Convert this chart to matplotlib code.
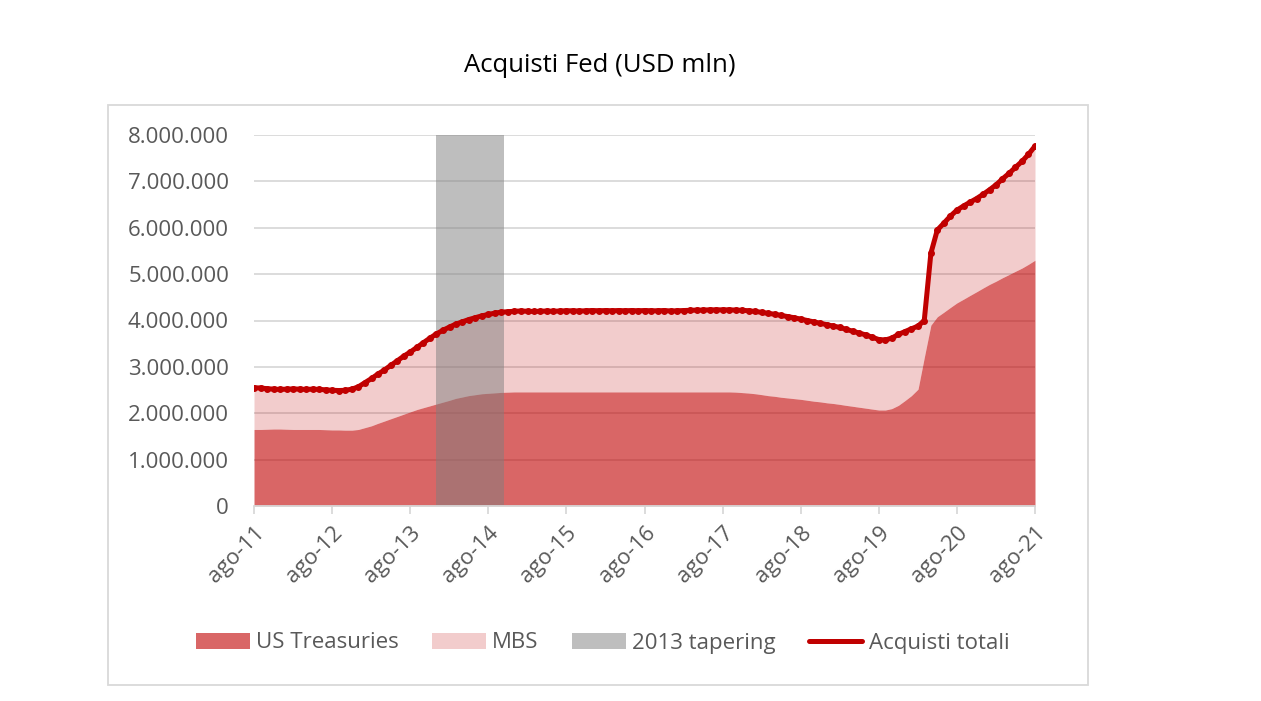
"""
Acquisti Fed (USD mln): stacked area of US Treasuries + MBS held by the Fed,
with total purchases line and the 2013 tapering window shaded.
"""

import matplotlib

matplotlib.use("Agg")

import matplotlib.pyplot as plt
import pandas as pd
from matplotlib.lines import Line2D
from matplotlib.patches import Patch, Rectangle

# ---------- data (USD bn, monthly, ago-11 .. ago-21) ----------
START_MONTH = "2011-08-01"

TOTAL_BN = [
    2550, 2545, 2530, 2520, 2515, 2520, 2525, 2520, 2515, 2520, 2515, 2505,  # ago-11
    2495, 2490, 2495, 2520, 2570, 2660, 2750, 2840, 2930, 3030, 3130, 3230,  # ago-12
    3320, 3420, 3520, 3620, 3710, 3790, 3860, 3920, 3970, 4020, 4060, 4100,  # ago-13
    4130, 4160, 4180, 4190, 4200, 4205, 4200, 4195, 4200, 4205, 4200, 4205,  # ago-14
    4210, 4210, 4205, 4210, 4215, 4210, 4215, 4210, 4215, 4210, 4215, 4210,  # ago-15
    4215, 4210, 4210, 4215, 4205, 4210, 4215, 4220, 4225, 4225, 4230, 4230,  # ago-16
    4230, 4230, 4225, 4220, 4210, 4195, 4175, 4155, 4135, 4110, 4085, 4060,  # ago-17
    4030, 4000, 3970, 3940, 3910, 3880, 3850, 3810, 3770, 3730, 3690, 3640,  # ago-18
    3590, 3580, 3620, 3700, 3760, 3820, 3880, 4000, 5450, 5950, 6100, 6250,  # ago-19
    6380, 6470, 6550, 6630, 6720, 6820, 6930, 7050, 7170, 7300, 7430, 7580,  # ago-20
    7760,                                                                    # ago-21
]

TREASURIES_BN = [
    1650, 1650, 1655, 1660, 1660, 1655, 1650, 1650, 1650, 1650, 1650, 1645,  # ago-11
    1640, 1640, 1635, 1635, 1650, 1690, 1730, 1780, 1830, 1880, 1930, 1980,  # ago-12
    2030, 2080, 2120, 2160, 2200, 2240, 2280, 2320, 2350, 2380, 2400, 2420,  # ago-13
    2430, 2440, 2450, 2455, 2460, 2460, 2460, 2460, 2460, 2460, 2460, 2460,  # ago-14
    2460, 2460, 2460, 2460, 2460, 2460, 2460, 2460, 2460, 2460, 2460, 2460,  # ago-15
    2460, 2460, 2460, 2460, 2460, 2460, 2460, 2460, 2460, 2460, 2460, 2460,  # ago-16
    2460, 2460, 2455, 2445, 2435, 2420, 2400, 2380, 2365, 2345, 2330, 2315,  # ago-17
    2300, 2280, 2260, 2245, 2225, 2210, 2190, 2170, 2150, 2130, 2110, 2090,  # ago-18
    2070, 2070, 2100, 2170, 2270, 2380, 2520, 3200, 3900, 4080, 4180, 4280,  # ago-19
    4380, 4460, 4540, 4620, 4700, 4780, 4850, 4920, 4990, 5060, 5130, 5210,  # ago-20
    5300,                                                                    # ago-21
]

TAPERING_START = "2013-12-01"
TAPERING_END = "2014-10-15"

TICK_YEARS = list(range(2011, 2022))
Y_TICKS = list(range(0, 8_000_001, 1_000_000))

TITLE = "Acquisti Fed (USD mln)"
LEGEND_LABELS = ["US Treasuries", "MBS", "2013 tapering", "Acquisti totali"]

# ---------- style ----------
RED = "#C00000"
GRID = "#D9D9D9"
TEXT = "#595959"
FONT = ["Open Sans", "DejaVu Sans"]
FS = 16

W, H = 1261, 701


def fx(px):
    return px / W


def fy(py):
    return 1 - py / H


def main() -> None:
    plt.rcParams["font.family"] = FONT

    assert len(TOTAL_BN) == len(TREASURIES_BN) == 121
    dates = pd.date_range(START_MONTH, periods=len(TOTAL_BN), freq="MS")
    total = [v * 1000 for v in TOTAL_BN]          # USD mln
    treasuries = [v * 1000 for v in TREASURIES_BN]

    fig = plt.figure(figsize=(W / 100, H / 100), dpi=100)
    ax = fig.add_axes([fx(254), fy(506), fx(1035) - fx(254), fy(135) - fy(506)])

    # chart box + title
    fig.add_artist(Rectangle((fx(108), fy(685)), fx(1088) - fx(108), fy(105) - fy(685),
                             transform=fig.transFigure, fill=False,
                             edgecolor=GRID, lw=1.3))
    fig.text(fx(600), fy(66), TITLE, ha="center", va="center", fontsize=18.5, color="black")

    # areas (semi-transparent so gridlines show through)
    ax.fill_between(dates, 0, treasuries, color=RED, alpha=0.6, lw=0, zorder=2)
    ax.fill_between(dates, treasuries, total, color=RED, alpha=0.2, lw=0, zorder=2)
    ax.axvspan(pd.Timestamp(TAPERING_START), pd.Timestamp(TAPERING_END),
               color="#7F7F7F", alpha=0.5, lw=0, zorder=3)
    ax.plot(dates, total, color=RED, lw=3.6, marker="o", ms=4.0,
            solid_capstyle="round", zorder=4)

    # axes
    ax.set_xlim(pd.Timestamp(START_MONTH), dates[-1])
    ax.set_ylim(0, 8_000_000)
    ax.set_yticks(Y_TICKS)
    ax.set_yticklabels([f"{v:,.0f}".replace(",", ".") for v in Y_TICKS])
    ax.yaxis.grid(True, color=GRID, lw=1.3, zorder=0)
    ax.set_axisbelow(True)

    ax.set_xticks([pd.Timestamp(f"{y}-08-01") for y in TICK_YEARS])
    ax.set_xticklabels([f"ago-{y % 100:02d}" for y in TICK_YEARS])

    for side in ("left", "right", "top"):
        ax.spines[side].set_visible(False)
    ax.spines["bottom"].set_color(GRID)
    ax.spines["bottom"].set_linewidth(1.3)
    ax.spines["bottom"].set_zorder(5)

    ax.tick_params(axis="y", length=0, pad=18, labelsize=FS, labelcolor=TEXT)
    ax.tick_params(axis="x", length=6, width=1.3, color=GRID, pad=6,
                   labelsize=FS, labelcolor=TEXT)
    for lab in ax.get_xticklabels():
        lab.set_rotation(45)
        lab.set_ha("right")
        lab.set_va("top")
        lab.set_rotation_mode("anchor")

    # legend
    handles = [
        Patch(facecolor=RED, alpha=0.6, lw=0),
        Patch(facecolor=RED, alpha=0.2, lw=0),
        Patch(facecolor="#7F7F7F", alpha=0.5, lw=0),
        Line2D([], [], color=RED, lw=3.6, solid_capstyle="round"),
    ]
    fig.legend(handles, LEGEND_LABELS, loc="center", bbox_to_anchor=(fx(603), fy(643)),
               ncol=4, frameon=False, fontsize=FS, labelcolor=TEXT,
               handlelength=2.4, handleheight=0.7, handletextpad=0.3,
               columnspacing=1.5)

    fig.savefig("out.png", dpi=100)


if __name__ == "__main__":
    main()
